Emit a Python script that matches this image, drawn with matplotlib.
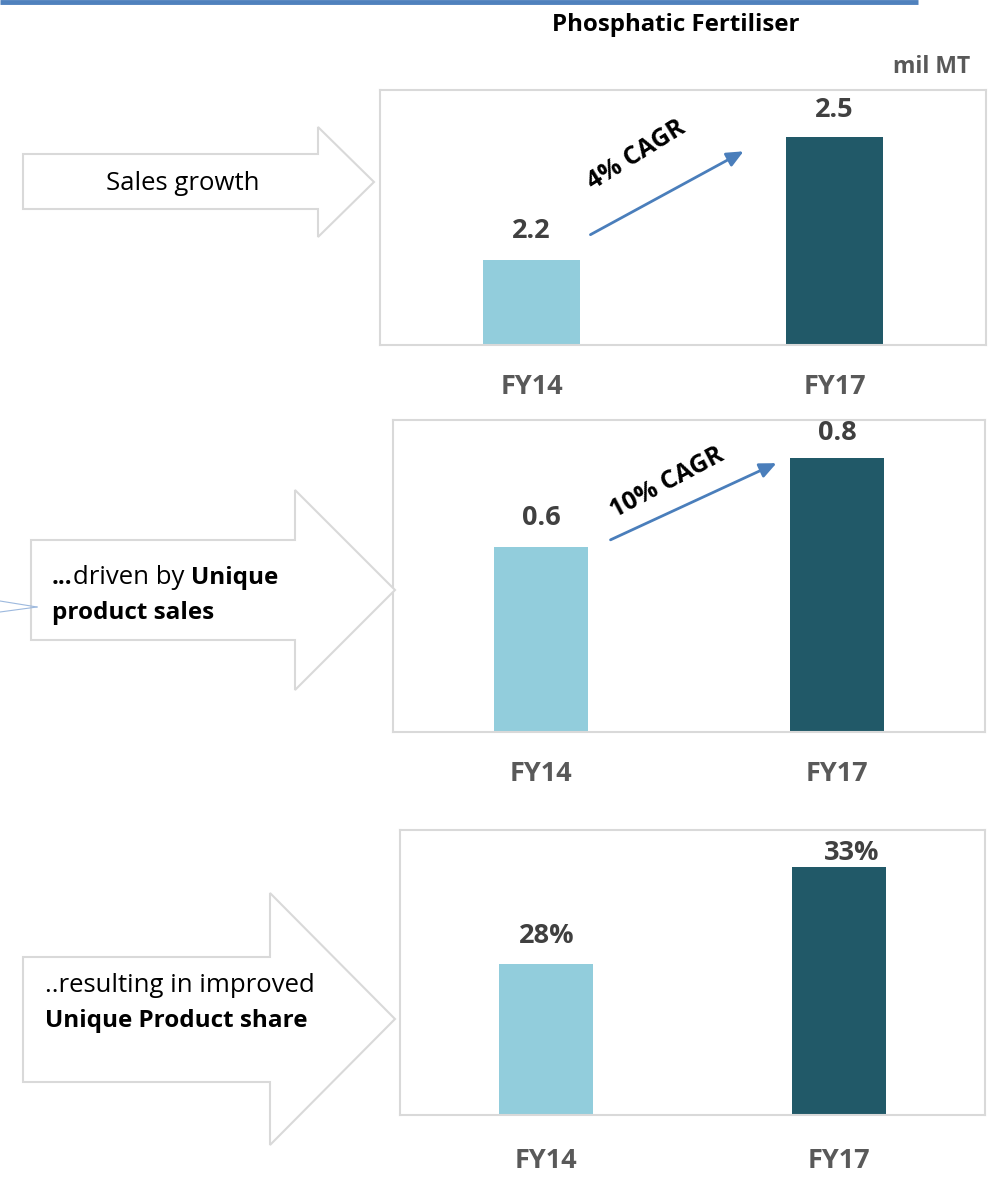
import matplotlib
matplotlib.use("Agg")
import matplotlib.pyplot as plt
from matplotlib.patches import Polygon

plt.rcParams["font.family"] = ["Open Sans", "DejaVu Sans"]

W, H = 999, 1182

# data
categories = ["FY14", "FY17"]
sales_mt = [2.2, 2.5]
unique_mt = [0.6, 0.8]
unique_share = [28, 33]
sales_labels = ["2.2", "2.5"]
unique_labels = ["0.6", "0.8"]
share_labels = ["28%", "33%"]
cagr_labels = ["4% CAGR", "10% CAGR"]

LIGHT = "#92CDDC"
DARK = "#215968"
BOX = "#D9D9D9"
BLUE = "#4A7EBB"


def px_axes(fig, x0, y0, x1, y1, **kw):
    return fig.add_axes([x0 / W, 1 - y1 / H, (x1 - x0) / W, (y1 - y0) / H], **kw)


fig = plt.figure(figsize=(W / 100, H / 100), dpi=100)

# overlay in pixel coordinates for shapes / titles
over = fig.add_axes([0, 0, 1, 1], zorder=5)
over.set_xlim(0, W)
over.set_ylim(H, 0)
over.axis("off")
over.patch.set_alpha(0)


def bar_panel(box, values, labels, ylim, nudges, pad=21):
    ax = px_axes(fig, *box)
    x = range(len(values))
    ax.bar(x, values, width=0.32, color=[LIGHT, DARK], zorder=2)
    ax.set_xlim(-0.5, 1.5)
    ax.set_ylim(*ylim)
    ax.set_yticks([])
    ax.set_xticks(list(x))
    ax.set_xticklabels(categories, fontsize=19.5, fontweight="bold", color="#595959")
    ax.tick_params(axis="x", length=0, pad=pad)
    for s in ax.spines.values():
        s.set_color(BOX)
        s.set_linewidth(1.5)
    for i, (v, lab) in enumerate(zip(values, labels)):
        dx, dy = nudges[i]
        ax.annotate(lab, (i, v), xytext=(dx, dy), textcoords="offset points",
                    ha="center", va="center", fontsize=19.5, fontweight="bold",
                    color="#404040", annotation_clip=False)
    return ax


bar_panel((380, 90, 986, 345), sales_mt, sales_labels, (1.993, 2.616), [(0, 21), (0, 20)])
bar_panel((393, 420, 985, 732), unique_mt, unique_labels, (0.187, 0.884), [(0, 21), (0, 18)])
bar_panel((400, 830, 985, 1115), unique_share, share_labels, (20.2, 34.9), [(0, 20), (9, 10)], pad=24)

# header line and titles
over.plot([0, 918], [2, 2], color="#4F81BD", lw=3.5, solid_capstyle="butt")
over.text(676, 25, "Phosphatic Fertiliser", ha="center", va="center",
          fontsize=17.3, fontweight="bold", color="black")
over.text(970, 67, "mil MT", ha="right", va="center",
          fontsize=16.5, fontweight="bold", color="#595959")


def block_arrow(x0, x1, xt, yb0, yb1, yh0, yh1):
    ymid = (yh0 + yh1) / 2
    pts = [(x0, yb0), (x1, yb0), (x1, yh0), (xt, ymid), (x1, yh1), (x1, yb1), (x0, yb1)]
    over.add_patch(Polygon(pts, closed=True, facecolor="white", edgecolor=BOX, lw=1.5))


block_arrow(23, 318, 374, 154, 209, 127, 237)
block_arrow(31, 295, 395, 540, 640, 490, 690)
block_arrow(23, 270, 395, 957, 1082, 893, 1145)

# faint connector stub left of second arrow
over.plot([0, 37], [601, 607], color="#9DB9DE", lw=0.8)
over.plot([0, 37], [612, 607], color="#9DB9DE", lw=0.8)

fs = 18.5   # regular text
fb = 17.5   # bold text
over.text(183, 183, "Sales growth", ha="center", va="center", fontsize=fs)

t1 = over.text(52, 578, "...", ha="left", va="center", fontsize=fb, fontweight="bold")
t2 = over.annotate("driven by ", xy=(1, 0), xycoords=t1, ha="left", va="bottom", fontsize=fs)
over.annotate("Unique", xy=(1, 0), xycoords=t2, ha="left", va="bottom", fontsize=fb, fontweight="bold")
over.text(52, 613, "product sales", ha="left", va="center", fontsize=fb, fontweight="bold")

over.text(45, 985, "..resulting in improved", ha="left", va="center", fontsize=fs)
over.text(45, 1021, "Unique Product share", ha="left", va="center", fontsize=fb, fontweight="bold")

# CAGR arrows
arrow_style = dict(arrowstyle="-|>,head_length=1.0,head_width=0.45", color=BLUE, lw=2)
over.annotate("", xy=(746, 150), xytext=(588, 236), arrowprops=arrow_style)
over.text(636, 155, cagr_labels[0], ha="center", va="center", rotation=32,
          fontsize=18, fontweight="bold", rotation_mode="anchor")
over.annotate("", xy=(779, 462), xytext=(608, 541), arrowprops=arrow_style)
over.text(667, 483, cagr_labels[1], ha="center", va="center", rotation=28,
          fontsize=18, fontweight="bold", rotation_mode="anchor")

fig.savefig("out.png", dpi=100)
